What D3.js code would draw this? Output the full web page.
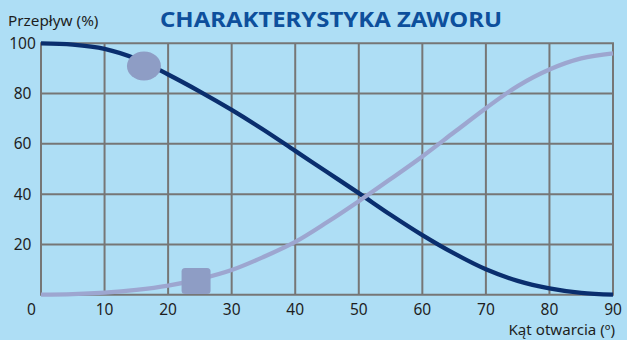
<!DOCTYPE html>
<html>
<head>
<meta charset="utf-8">
<script src="https://cdn.jsdelivr.net/npm/d3@7"></script>
<style>
  html, body { margin: 0; padding: 0; background: #aedef5; }
  svg { display: block; }
  text { font-family: "Noto Sans", "Open Sans", sans-serif; }
</style>
</head>
<body>
<svg id="chart" width="627" height="340"></svg>
<script>
// Opening angle (degrees)
const angles = [0, 5, 10, 15, 20, 25, 30, 35, 40, 45, 50, 55, 60, 65, 70, 75, 80, 85, 90];
// Flow (%) for the closing branch
const flowClosing = [100, 99.5, 97.8, 93.8, 87.6, 80.8, 73.5, 65.6, 57.2, 48.8, 40.4, 31.8, 23.7, 16.4, 10.1, 5.5, 2.5, 0.7, 0];
// Flow (%) for the opening branch
const flowOpening = [0, 0.2, 0.8, 1.9, 3.6, 6.2, 9.8, 15.0, 21.0, 28.8, 37.2, 46.0, 55.0, 64.6, 74.2, 83.0, 89.6, 94.0, 96.0];

const xTicks = [0, 10, 20, 30, 40, 50, 60, 70, 80, 90];
const yTicks = [0, 20, 40, 60, 80, 100];
const yTickLabels = ["", "20", "40", "60", "80", "100"];

// Legend markers sitting on each curve
const circleMarker = { angle: 16.2, flow: 91 };
const squareMarker = { angle: 24.4, flow: 5.4 };

const title = "CHARAKTERYSTYKA ZAWORU";
const yTitle = "Przepływ (%)";
const xTitle = "Kąt otwarcia (º)";

const svg = d3.select("#chart");
const plotLeft = 41, plotRight = 613, plotTop = 43.3, plotBottom = 294.7;

const x = d3.scaleLinear().domain([0, 90]).range([plotLeft, plotRight]);
const y = d3.scaleLinear().domain([0, 100]).range([plotBottom, plotTop]);

const gridColor = "#767676";

// grid
const grid = svg.append("g");
grid.selectAll("line.v").data(xTicks).join("line")
  .attr("class", "v")
  .attr("x1", d => x(d)).attr("x2", d => x(d))
  .attr("y1", y(100)).attr("y2", y(0))
  .attr("stroke", gridColor).attr("stroke-width", 2);
grid.selectAll("line.h").data(yTicks).join("line")
  .attr("class", "h")
  .attr("x1", x(0) - 1).attr("x2", x(90) + 1)
  .attr("y1", d => y(d)).attr("y2", d => y(d))
  .attr("stroke", gridColor).attr("stroke-width", 2);

// y tick labels
svg.append("g").selectAll("text").data(yTicks).join("text")
  .attr("x", 22.5).attr("y", d => y(d) + 5.5)
  .attr("text-anchor", "middle")
  .attr("font-size", 15.5).attr("fill", "#1e1e1e")
  .text((d, i) => yTickLabels[i]);

// x tick labels
svg.append("g").selectAll("text").data(xTicks).join("text")
  .attr("x", d => d === 0 ? x(d) - 9.5 : x(d))
  .attr("y", 315)
  .attr("text-anchor", "middle")
  .attr("font-size", 15.5).attr("fill", "#1e1e1e")
  .text(d => d);

// axis titles
svg.append("text").attr("x", 8).attr("y", 25.7)
  .attr("font-size", 15.3).attr("fill", "#1e1e1e").text(yTitle);
svg.append("text").attr("x", 508.5).attr("y", 334.5)
  .attr("font-size", 14).attr("fill", "#1e1e1e")
  .attr("textLength", 106.5).attr("lengthAdjust", "spacingAndGlyphs")
  .text(xTitle);

// chart title
svg.append("text").attr("x", 160).attr("y", 27)
  .attr("font-size", 20.5).attr("font-weight", "bold")
  .attr("fill", "#0d4f9c")
  .attr("textLength", 342).attr("lengthAdjust", "spacingAndGlyphs")
  .text(title);

// curves
const line = d3.line()
  .x(d => x(d[0])).y(d => y(d[1]))
  .curve(d3.curveCatmullRom.alpha(0.5));

svg.append("path")
  .datum(angles.map((a, i) => [a, flowClosing[i]]))
  .attr("d", line).attr("fill", "none")
  .attr("stroke", "#0a2e6e").attr("stroke-width", 4.3)
  .attr("stroke-linecap", "butt");

svg.append("path")
  .datum(angles.map((a, i) => [a, flowOpening[i]]))
  .attr("d", line).attr("fill", "none")
  .attr("stroke", "#9da6d0").attr("stroke-width", 4.3)
  .attr("stroke-linecap", "butt");

// markers
svg.append("ellipse")
  .attr("cx", x(circleMarker.angle)).attr("cy", y(circleMarker.flow))
  .attr("rx", 17).attr("ry", 14.5)
  .attr("fill", "#8e9dc5");

svg.append("rect")
  .attr("x", x(squareMarker.angle) - 14.5).attr("y", y(squareMarker.flow) - 13)
  .attr("width", 29).attr("height", 26).attr("rx", 3.5)
  .attr("fill", "#8e9dc5");
</script>
</body>
</html>
